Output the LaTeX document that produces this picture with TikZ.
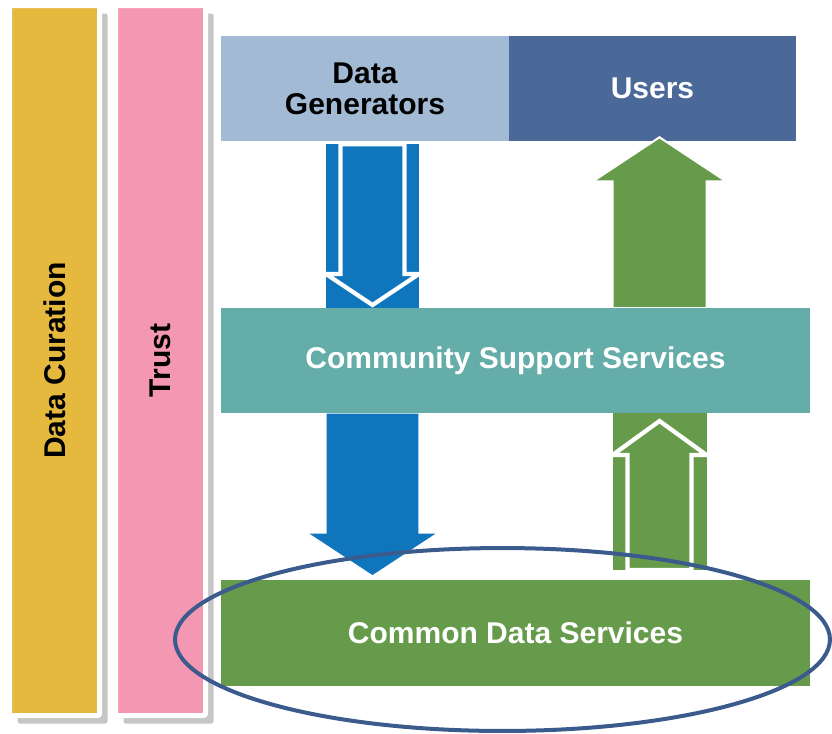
\documentclass[tikz,border=0pt]{standalone}
\usepackage{fontspec}
\setmainfont{Liberation Sans}
\usetikzlibrary{calc,shadows}

\definecolor{curationyellow}{HTML}{E5B93D}
\definecolor{trustpink}{HTML}{F497B2}
\definecolor{genblue}{HTML}{A2BAD4}
\definecolor{userblue}{HTML}{4A6898}
\definecolor{supportteal}{HTML}{65ADA8}
\definecolor{servicegreen}{HTML}{669B4C}
\definecolor{flowblue}{HTML}{0F75BC}
\definecolor{ringblue}{HTML}{3B5B8D}

\tikzset{
  layerbox/.style={rectangle, inner sep=0pt, minimum height=78.75pt, align=center,
    font=\bfseries\fontsize{22.5}{23.5}\selectfont, text=white},
  sidebar/.style={rectangle, inner sep=0pt, minimum width=67.5pt, minimum height=532.5pt,
    draw=white, line width=3.75pt, rounded corners=1.5pt,
    drop shadow={shadow xshift=6pt, shadow yshift=-6pt, fill=black!50, opacity=.45},
    font=\bfseries\fontsize{22.5}{23.5}\selectfont, text=black},
}

\begin{document}
\begin{tikzpicture}[x=0.75pt, y=-0.75pt]
			%%%%% START %%%%%
			\useasboundingbox (0,0) rectangle (832,733);
			
			% side bars
			\node[sidebar, fill=curationyellow] (curation) at (54.5,360.5) {\rotatebox{90}{Data Curation}};
			\node[sidebar, fill=trustpink] (trust) at (160.5,360.5) {\rotatebox{90}{Trust}};
			
			% top row
			\node[layerbox, fill=genblue, text=black, minimum width=216pt] (gen) at (365,88.5) {Data\\Generators};
			\node[layerbox, fill=userblue, minimum width=215.25pt] (users) at (652.5,88.5) {Users};
			
			% arrow axes
			\coordinate (down) at (372.5,0);
			\coordinate (up) at (659.5,0);
			
			% generators -> support
			\coordinate (d1) at ($(down |- gen.south)+(0,3)$);
			\coordinate (d2) at (down |- 0,308);
			\fill[flowblue] ($(d1)+(-46.5,0)$) rectangle ($(d2)+(46.5,0)$);
			\draw[fill=flowblue, draw=white, line width=3.2pt] ($(d1)+(-32,0)$) -- ($(d1)+(32,0)$) -- ($(d2)+(32,-34)$) -- ($(d2)+(46.5,-34)$) -- ($(d2)+(0,-3)$) -- ($(d2)+(-46.5,-34)$) -- ($(d2)+(-32,-34)$) -- cycle;
			
			% support -> common
			\coordinate (d3) at (down |- 0,413);
			\coordinate (d4) at (down |- 0,576);
			\draw[fill=flowblue, draw=white, line width=1pt] ($(d3)+(-46.5,0)$) -- ($(d3)+(46.5,0)$) -- ($(d4)+(46.5,-43)$) -- ($(d4)+(65.5,-43)$) -- (d4) -- ($(d4)+(-65.5,-43)$) -- ($(d4)+(-46.5,-43)$) -- cycle;
			
			% support -> users
			\coordinate (u1) at (up |- 0,308);
			\coordinate (u2) at ($(up |- users.south)+(0,-4)$);
			\draw[fill=servicegreen, draw=white, line width=1.5pt] ($(u1)+(-47,0)$) -- ($(u2)+(-47,44)$) -- ($(u2)+(-66.5,44)$) -- (u2) -- ($(u2)+(66.5,44)$) -- ($(u2)+(47,44)$) -- ($(u1)+(47,0)$) -- cycle;
			
			% common -> support
			\coordinate (u3) at (up |- 0,570);
			\coordinate (u4) at (up |- 0,413);
			\fill[servicegreen] ($(u3)+(-47,0)$) rectangle ($(u4)+(47,0)$);
			\draw[fill=servicegreen, draw=white, line width=3.2pt] ($(u3)+(-32,0)$) -- ($(u4)+(-32,42)$) -- ($(u4)+(-47,42)$) -- ($(u4)+(0,8)$) -- ($(u4)+(47,42)$) -- ($(u4)+(32,42)$) -- ($(u3)+(32,0)$) -- cycle;
			
			% middle and bottom layers
			\node[layerbox, fill=supportteal, minimum width=441.75pt] (support) at (515.5,360.5) {Community Support Services};
			\node[layerbox, fill=servicegreen, minimum width=441.75pt, minimum height=79.5pt] (common) at (515.5,633) {Common Data Services};
			
			% ring round the common services
			\draw[ringblue, line width=3pt] (502.5,639.5) ellipse [x radius=245.6pt, y radius=68.6pt];
			
			%%%%% END %%%%%
\end{tikzpicture}
\end{document}
